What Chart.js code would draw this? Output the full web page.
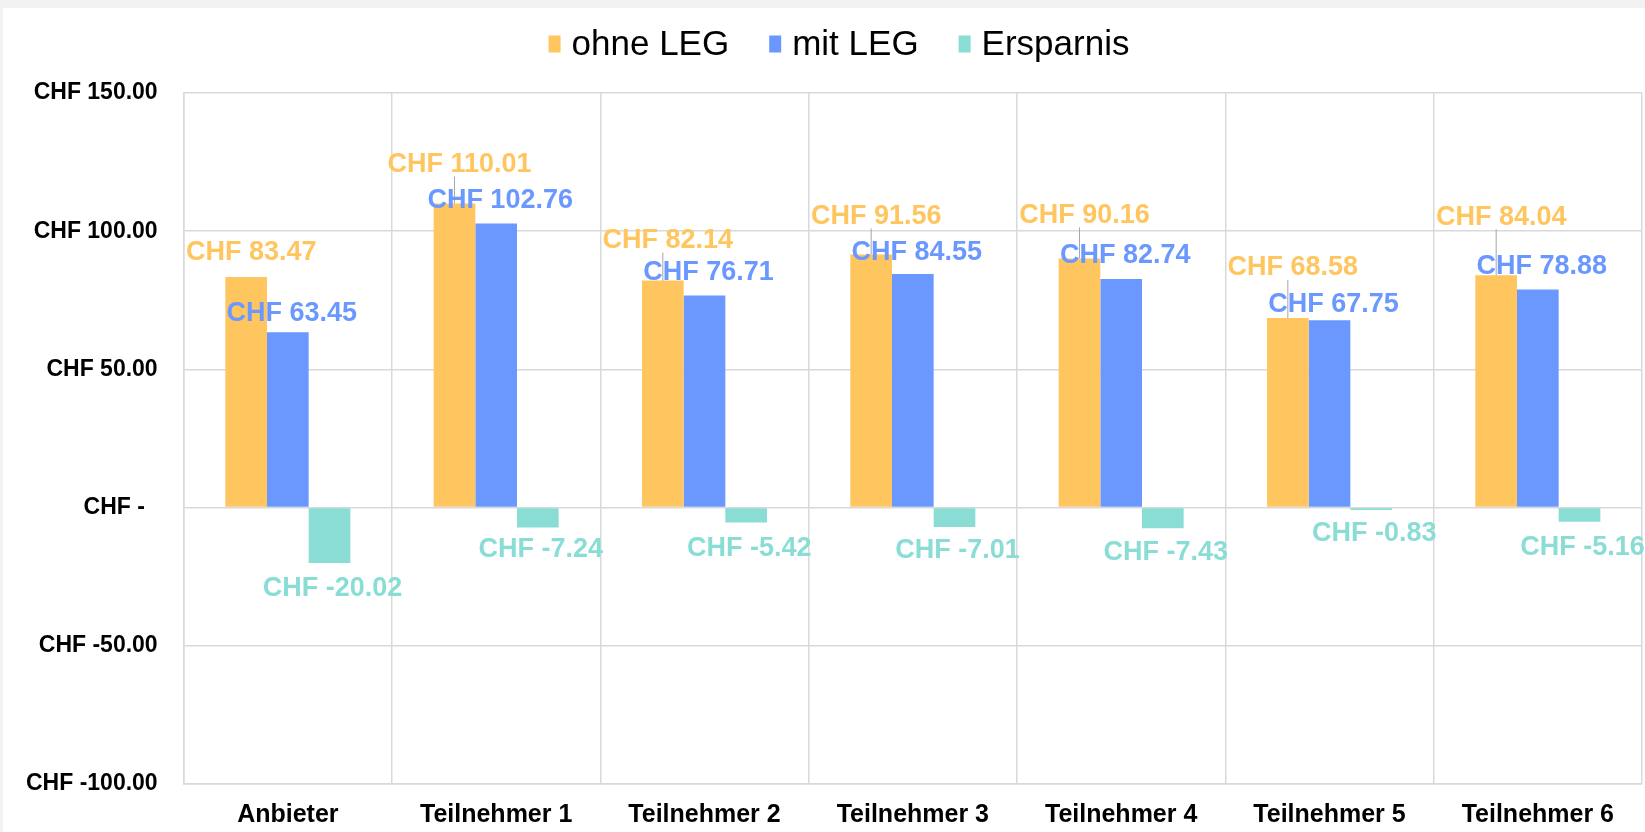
<!DOCTYPE html>
<html>
<head>
<meta charset="utf-8">
<script src="https://cdn.jsdelivr.net/npm/chart.js@4"></script>
<style>
  html, body { margin: 0; padding: 0; background: #f2f2f2; }
  #wrap { position: absolute; left: 3px; top: 8px; width: 1642px; height: 824px; background: #ffffff; overflow: hidden; }
  #chart { position: absolute; left: -10px; top: 0; display: block; }
</style>
</head>
<body>
<div id="wrap"><canvas id="chart" width="1655" height="838"></canvas></div>
<script>
// Data
var categories = ["Anbieter", "Teilnehmer 1", "Teilnehmer 2", "Teilnehmer 3", "Teilnehmer 4", "Teilnehmer 5", "Teilnehmer 6"];
var ohneLEG = [83.47, 110.01, 82.14, 91.56, 90.16, 68.58, 84.04];
var mitLEG = [63.45, 102.76, 76.71, 84.55, 82.74, 67.75, 78.88];
var ersparnis = [-20.02, -7.24, -5.42, -7.01, -7.43, -0.83, -5.16];
var yTicks = [-100, -50, 0, 50, 100, 150];

// manual label nudges (pixels away from the bar end), like the moved labels in the original
var ohneLift = [24, 39, 40, 38, 43, 50, 58];
var mitLift = [19, 23, 23, 21, 23, 16, 23];
var ersparnisDrop = [26, 22, 26, 24, 24, 24, 26];

var colOhne = "#FFC55F";
var colMit = "#6A98FF";
var colErsp = "#8ADDD5";
var fontFamily = "'Liberation Sans', Arial, sans-serif";

function chf(v) {
  if (v === 0) return "CHF -  ";
  return "CHF " + v.toFixed(2);
}

// data labels with leader lines
var labelPlugin = {
  id: "barLabels",
  afterDatasetsDraw: function (chart) {
    var ctx = chart.ctx;
    ctx.save();
    ctx.font = "bold 27px " + fontFamily;
    ctx.textAlign = "center";
    ctx.textBaseline = "middle";
    chart.data.datasets.forEach(function (ds, d) {
      var meta = chart.getDatasetMeta(d);
      meta.data.forEach(function (bar, i) {
        var v = ds.data[i];
        var x, y;
        if (d === 0) {
          x = bar.x + 5;
          y = bar.y - ohneLift[i];
          if (ohneLift[i] > 30) {
            ctx.strokeStyle = "#a6a6a6";
            ctx.lineWidth = 1;
            ctx.beginPath();
            ctx.moveTo(bar.x, bar.y);
            ctx.lineTo(bar.x, y + 12);
            ctx.stroke();
          }
        } else if (d === 1) {
          x = bar.x + 4;
          y = bar.y - mitLift[i];
        } else {
          x = bar.x + 3;
          y = bar.y + ersparnisDrop[i];
        }
        ctx.fillStyle = ds.backgroundColor;
        ctx.fillText(chf(v), x, y);
      });
    });
    ctx.restore();
  }
};

// legend drawn by hand to get the spacing of the original
var legendPlugin = {
  id: "topLegend",
  afterDraw: function (chart) {
    var ctx = chart.ctx;
    ctx.save();
    ctx.font = "35px " + fontFamily;
    ctx.textBaseline = "middle";
    var items = chart.data.datasets;
    var gapBox = 11, gapItem = 40, boxW = 12, boxH = 17;
    var total = 0;
    items.forEach(function (ds, i) {
      total += boxW + gapBox + ctx.measureText(ds.label).width;
      if (i < items.length - 1) total += gapItem;
    });
    var x = 846 - total / 2;
    var y = 36;
    items.forEach(function (ds) {
      ctx.fillStyle = ds.backgroundColor;
      ctx.fillRect(x, y - boxH / 2, boxW, boxH);
      x += boxW + gapBox;
      ctx.fillStyle = "#000000";
      ctx.fillText(ds.label, x, y + 1);
      x += ctx.measureText(ds.label).width + gapItem;
    });
    ctx.restore();
  }
};

var chart = new Chart(document.getElementById("chart"), {
  type: "bar",
  data: {
    labels: categories,
    datasets: [
      { label: "ohne LEG", data: ohneLEG, backgroundColor: colOhne },
      { label: "mit LEG", data: mitLEG, backgroundColor: colMit },
      { label: "Ersparnis", data: ersparnis, backgroundColor: colErsp }
    ]
  },
  options: {
    responsive: false,
    animation: false,
    datasets: {
      bar: { categoryPercentage: 0.6, barPercentage: 1.0 }
    },
    layout: {
      padding: { top: 85, left: 7, right: 6, bottom: 0 }
    },
    scales: {
      x: {
        grid: { color: "#d9d9d9", lineWidth: 1.5, drawTicks: false },
        border: { color: "#d9d9d9", width: 1.5 },
        ticks: {
          color: "#000000",
          padding: 16,
          font: { family: fontFamily, size: 25, weight: "bold" }
        }
      },
      y: {
        min: -100,
        max: 150,
        afterBuildTicks: function (scale) {
          scale.ticks = yTicks.map(function (v) { return { value: v }; });
        },
        grid: { color: "#d9d9d9", lineWidth: 1.5, drawTicks: false },
        border: { color: "#d9d9d9", width: 1.5 },
        ticks: {
          color: "#000000",
          padding: 26,
          font: { family: fontFamily, size: 23, weight: "bold" },
          callback: function (v) { return chf(v); }
        }
      }
    },
    plugins: {
      legend: { display: false },
      tooltip: { enabled: false }
    }
  },
  plugins: [labelPlugin, legendPlugin]
});
</script>
</body>
</html>
